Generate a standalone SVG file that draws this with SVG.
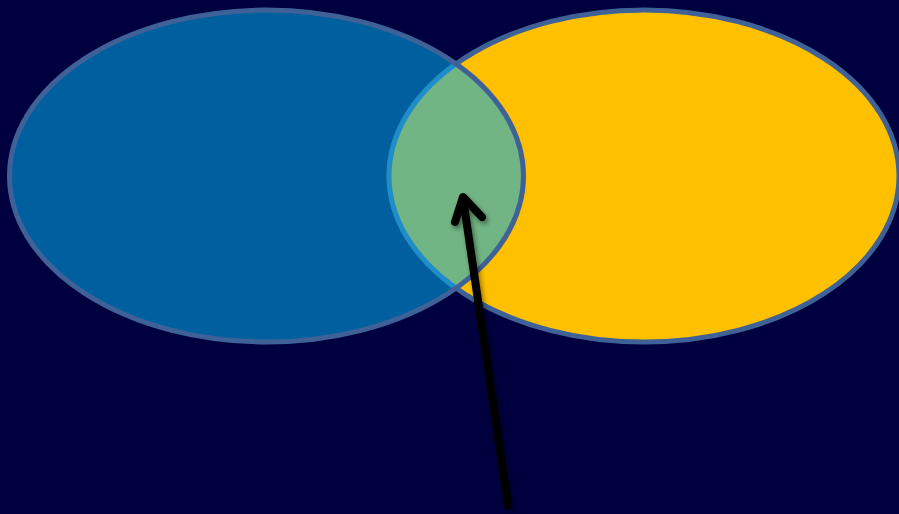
<svg xmlns="http://www.w3.org/2000/svg" width="899" height="514" viewBox="0 0 899 514">
  <style>
    .edge { stroke: #3e6297; stroke-width: 5; }
    .arrow { fill: none; stroke: #000000; stroke-width: 8; stroke-linecap: round; stroke-linejoin: round; }
  </style>
  <defs>
    <clipPath id="clipBlue">
      <ellipse cx="266.5" cy="176" rx="257" ry="166"/>
    </clipPath>
    <filter id="shadow" x="-50%" y="-50%" width="200%" height="200%">
      <feGaussianBlur in="SourceAlpha" stdDeviation="2.5"/>
      <feOffset dx="2" dy="3" result="b"/>
      <feFlood flood-color="#000000" flood-opacity="0.45"/>
      <feComposite in2="b" operator="in"/>
      <feMerge><feMergeNode/><feMergeNode in="SourceGraphic"/></feMerge>
    </filter>
  </defs>
  <rect width="899" height="514" fill="#00003f"/>
  <g id="blue-set">
    <ellipse cx="266.5" cy="176" rx="257" ry="166" fill="#005f9f"/>
  </g>
  <g id="yellow-set">
    <ellipse cx="644" cy="176" rx="255" ry="166" fill="#ffc000" class="edge"/>
  </g>
  <g id="intersection">
    <ellipse cx="644" cy="176" rx="255" ry="166" fill="#72b585" clip-path="url(#clipBlue)"/>
    <ellipse cx="644" cy="176" rx="255" ry="166" fill="none" stroke="#1f8dc8" stroke-width="5" clip-path="url(#clipBlue)"/>
    <ellipse cx="266.5" cy="176" rx="257" ry="166" fill="none" class="edge"/>
  </g>
  <g id="connectors">
    <g filter="url(#shadow)">
      <path class="arrow" d="M508,505 L463,198"/>
      <path class="arrow" d="M455,222 L463,197 L482,217"/>
    </g>
  </g>
</svg>
